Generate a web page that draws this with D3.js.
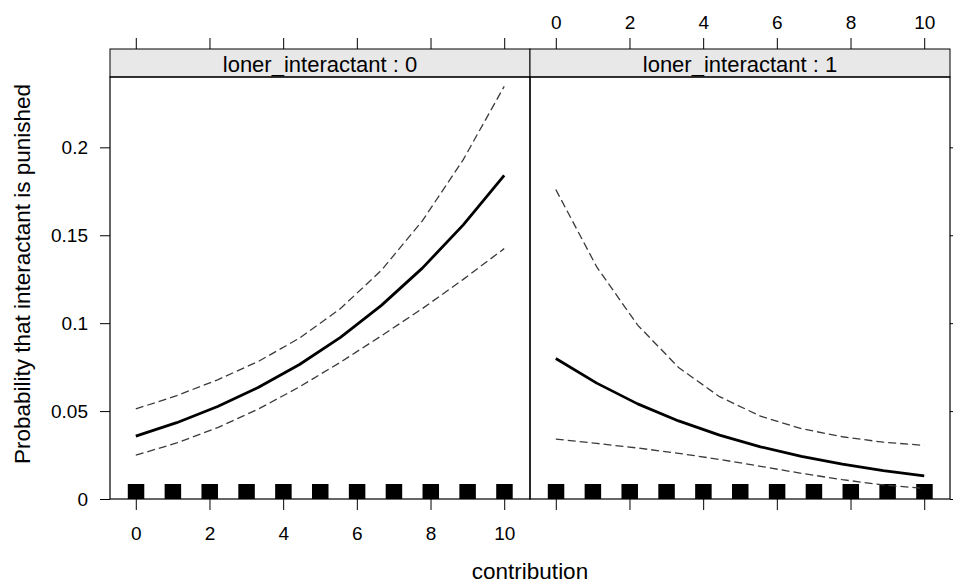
<!DOCTYPE html>
<html>
<head>
<meta charset="utf-8">
<script src="https://cdn.jsdelivr.net/npm/d3@7"></script>
<style>
  html, body { margin: 0; padding: 0; background: #fff; }
  svg { display: block; font-family: "Liberation Sans", Arial, sans-serif; }
</style>
</head>
<body>
<svg id="chart" width="953" height="583"></svg>
<script>
// ---------------- data ----------------
const contribution = [0, 1.111, 2.222, 3.333, 4.444, 5.556, 6.667, 7.778, 8.889, 10];

const fit0   = [0.0358, 0.0434, 0.0526, 0.0635, 0.0765, 0.0919, 0.1101, 0.1313, 0.1559, 0.1841];
const lower0 = [0.0249, 0.0319, 0.0406, 0.0512, 0.0638, 0.0778, 0.0928, 0.1083, 0.1249, 0.1424];
const upper0 = [0.0512, 0.0588, 0.0678, 0.0783, 0.0915, 0.1083, 0.1301, 0.1582, 0.1930, 0.2347];

const fit1   = [0.0799, 0.0659, 0.0541, 0.0444, 0.0363, 0.0297, 0.0242, 0.0198, 0.0161, 0.0131];
const lower1 = [0.0341, 0.0316, 0.0290, 0.0260, 0.0225, 0.0186, 0.0146, 0.0110, 0.0080, 0.0060];
const upper1 = [0.1760, 0.1320, 0.0989, 0.0748, 0.0582, 0.0471, 0.0400, 0.0354, 0.0323, 0.0305];

const rugValues = [0, 1, 2, 3, 4, 5, 6, 7, 8, 9, 10];
const panelLabels = ["loner_interactant : 0", "loner_interactant : 1"];
const xTicks = [0, 2, 4, 6, 8, 10];
const yTicks = [0, 0.05, 0.1, 0.15, 0.2];
const xTitle = "contribution";
const yTitle = "Probability that interactant is punished";

// ---------------- layout ----------------
const svg = d3.select("#chart");
const panelW = 420;
const panelLefts = [110, 530];
const stripTop = 49, stripBottom = 77, panelBottom = 499;
const tickFont = 19, titleFont = 22.5, stripFont = 22;

const x = d3.scaleLinear().domain([-0.7, 10.7]).range([0, panelW]);
const y = d3.scaleLinear().domain([0, 0.24]).range([panelBottom, stripBottom]);

const panels = [
  { label: panelLabels[0], fit: fit0, lower: lower0, upper: upper0 },
  { label: panelLabels[1], fit: fit1, lower: lower1, upper: upper1 }
];

const line = d3.line().x(d => x(d[0])).y(d => y(d[1]));

function styleAxis(g) {
  g.select(".domain").remove();
  g.selectAll(".tick line").attr("stroke", "#000").attr("stroke-width", 1);
  g.selectAll(".tick text").attr("fill", "#000").style("font-size", tickFont + "px")
    .style("font-family", "'Liberation Sans', Arial, sans-serif");
}

panels.forEach((p, i) => {
  const g = svg.append("g").attr("transform", `translate(${panelLefts[i]},0)`);

  // strip
  g.append("rect")
    .attr("x", 0).attr("y", stripTop)
    .attr("width", panelW).attr("height", stripBottom - stripTop)
    .attr("fill", "#e8e8e8").attr("stroke", "#000").attr("stroke-width", 1);
  g.append("text")
    .attr("x", panelW / 2).attr("y", (stripTop + stripBottom) / 2 + 1)
    .attr("text-anchor", "middle").attr("dominant-baseline", "central")
    .style("font-size", stripFont + "px")
    .text(p.label);

  // rug squares
  g.selectAll("rect.rug").data(rugValues).enter().append("rect")
    .attr("class", "rug")
    .attr("x", d => x(d) - 8).attr("y", panelBottom - 15)
    .attr("width", 16.5).attr("height", 15)
    .attr("fill", "#000");

  const pts = k => contribution.map((c, j) => [c, p[k][j]]);

  ["lower", "upper"].forEach(k => {
    g.append("path").datum(pts(k))
      .attr("d", line).attr("fill", "none")
      .attr("stroke", "#3a3a3a").attr("stroke-width", 1.3).attr("stroke-dasharray", "8,4");
  });
  g.append("path").datum(pts("fit"))
    .attr("d", line).attr("fill", "none")
    .attr("stroke", "#000").attr("stroke-width", 2.8).attr("stroke-linejoin", "round");

  // panel frame
  g.append("rect")
    .attr("x", 0).attr("y", stripBottom)
    .attr("width", panelW).attr("height", panelBottom - stripBottom)
    .attr("fill", "none").attr("stroke", "#000").attr("stroke-width", 1.2);

  // bottom axis
  const bottom = d3.axisBottom(x).tickValues(xTicks).tickSize(11).tickPadding(17);
  if (i !== 0) bottom.tickFormat(() => "");
  g.append("g").attr("transform", `translate(0,${panelBottom})`).call(bottom).call(styleAxis);

  // top axis
  const top = d3.axisTop(x).tickValues(xTicks).tickSize(11).tickPadding(9);
  if (i !== 1) top.tickFormat(() => "");
  g.append("g").attr("transform", `translate(0,${stripTop})`).call(top).call(styleAxis);
});

// left axis
svg.append("g").attr("transform", `translate(${panelLefts[0]},0)`)
  .call(d3.axisLeft(y).tickValues(yTicks).tickSize(10).tickPadding(12).tickFormat(d => String(d)))
  .call(styleAxis);

// right axis (ticks only)
svg.append("g").attr("transform", `translate(${panelLefts[1] + panelW},0)`)
  .call(d3.axisRight(y).tickValues(yTicks).tickSize(4).tickFormat(() => ""))
  .call(styleAxis);

// titles
svg.append("text")
  .attr("x", (panelLefts[0] + panelLefts[1] + panelW) / 2).attr("y", 579)
  .attr("text-anchor", "middle")
  .style("font-size", titleFont + "px")
  .text(xTitle);

svg.append("text")
  .attr("transform", `translate(22,${(stripTop + panelBottom) / 2}) rotate(-90)`)
  .attr("text-anchor", "middle").attr("dominant-baseline", "central")
  .style("font-size", titleFont + "px")
  .text(yTitle);
</script>
</body>
</html>
